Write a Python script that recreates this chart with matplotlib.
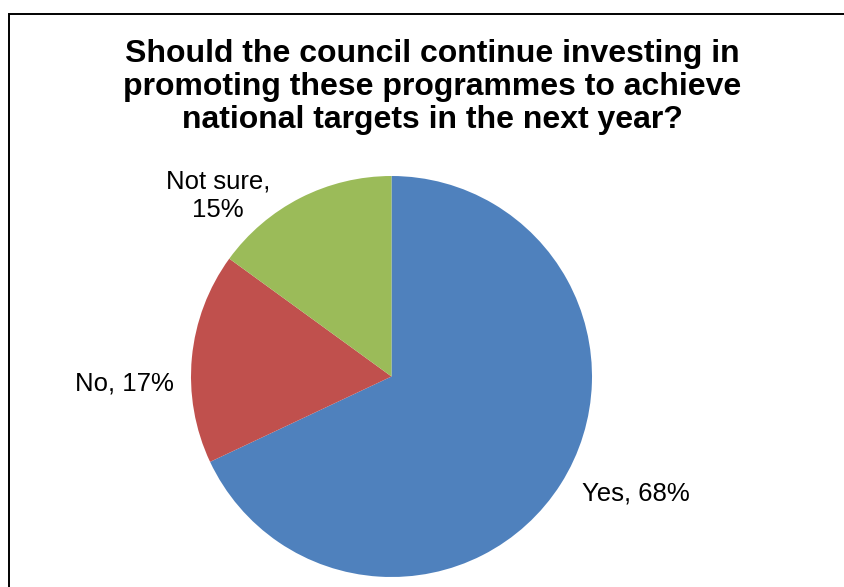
import matplotlib
matplotlib.use("Agg")
import matplotlib.pyplot as plt
from matplotlib.patches import Rectangle

categories = ["Yes", "No", "Not sure"]
values = [68, 17, 15]
colors = ["#4F81BD", "#C0504D", "#9BBB59"]
title = "Should the council continue investing in\npromoting these programmes to achieve\nnational targets in the next year?"

W, H = 845, 587
fig = plt.figure(figsize=(W / 100, H / 100), dpi=100)
ax = fig.add_axes([0, 0, 1, 1])
ax.set_xlim(0, W)
ax.set_ylim(0, H)
ax.set_aspect("equal")
ax.axis("off")

# chart frame
ax.add_patch(Rectangle((9.5, -20), W + 20, H - 13.5 + 20, fill=False,
                       edgecolor="black", linewidth=1.4))

cx, cy, r = 391.5, H - 376.5, 200.5
ax.pie(values, colors=colors, startangle=90, counterclock=False,
       center=(cx, cy), radius=r, wedgeprops=dict(linewidth=0))
ax.set_xlim(0, W)
ax.set_ylim(0, H)

font = "Liberation Sans"
ax.text(432, H - 87, title, ha="center", va="center", fontsize=23,
        fontweight="bold", family=font, linespacing=1.13)

label_pos = {"Yes": (636, H - 494), "No": (124, H - 383),
             "Not sure": (218, H - 196)}
for cat, v in zip(categories, values):
    txt = f"{cat},\n{v}%" if cat == "Not sure" else f"{cat}, {v}%"
    x, y = label_pos[cat]
    ax.text(x, y, txt, ha="center", va="center", fontsize=18.5,
            family=font, linespacing=1.22)

fig.savefig("out.png", dpi=100)
